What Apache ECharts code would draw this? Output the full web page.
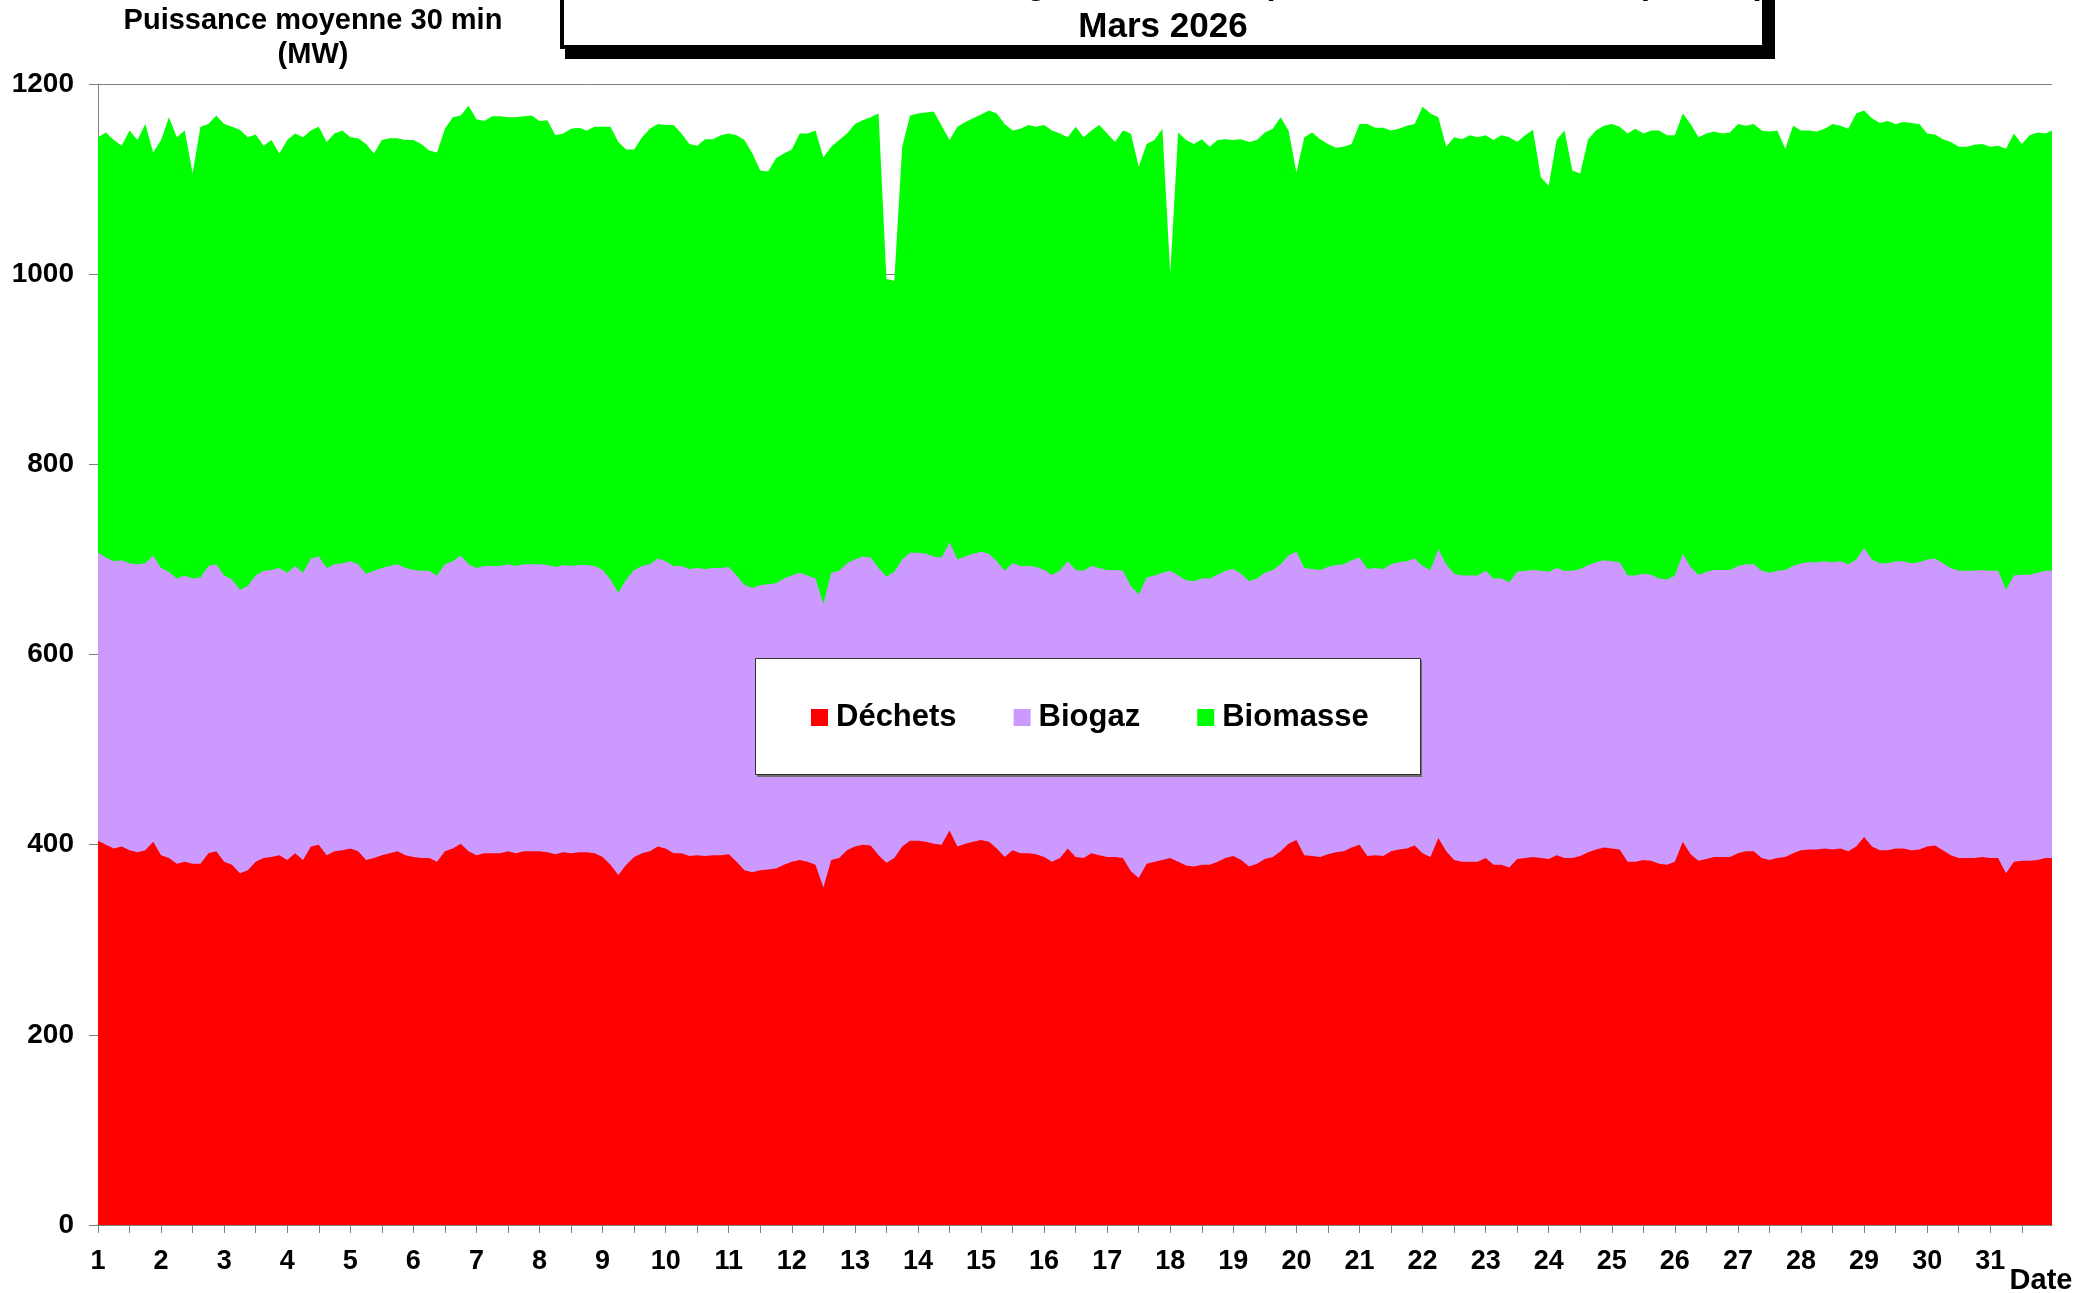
<!DOCTYPE html>
<html>
<head>
<meta charset="utf-8">
<script src="https://cdn.jsdelivr.net/npm/echarts@6/dist/echarts.min.js"></script>
<style>
  html, body { margin: 0; padding: 0; background: #fff; }
  #chart { width: 2100px; height: 1293px; }
</style>
</head>
<body>
<div id="chart"></div>
<script>
// production par pas de 3 h (0h, 3h ... 21h) puis la dernière demi-heure du 31
const hours = [0, 3, 6, 9, 12, 15, 18, 21]
const lastHour = 23.5

// étiquettes de l'axe des dates
const dayLabels = [1, 2, 3, 4, 5, 6, 7, 8, 9, 10, 11, 12, 13, 14, 15, 16,
  17, 18, 19, 20, 21, 22, 23, 24, 25, 26, 27, 28, 29, 30, 31]
const yTicks = [0, 200, 400, 600, 800, 1000, 1200]

const dechets = [
  404, 400, 396, 398, 394, 392, 394, 403,
  389, 386, 380, 382, 380, 380, 391, 393,
  382, 379, 370, 373, 382, 386, 387, 389,
  384, 391, 384, 398, 400, 389, 393, 394,
  396, 393, 384, 386, 389, 391, 393, 389,
  387, 386, 386, 382, 393, 396, 401, 393,
  389, 391, 391, 391, 393, 391, 393, 393,
  393, 392, 390, 392, 391, 392, 392, 391,
  387, 379, 368, 379, 387, 391, 393, 398,
  396, 391, 391, 388, 389, 388, 389, 389,
  390, 382, 373, 371, 373, 374, 375, 379,
  382, 384, 382, 379, 355, 384, 386, 394,
  398, 400, 399, 389, 381, 386, 398, 404,
  404, 403, 401, 400, 415, 398, 401, 403,
  405, 403, 396, 387, 394, 391, 391, 390,
  387, 382, 386, 396, 387, 386, 391, 389,
  387, 387, 386, 372, 365, 380, 382, 384,
  386, 382, 378, 377, 379, 379, 382, 386,
  388, 384, 377, 380, 385, 387, 393, 401,
  405, 389, 388, 387, 390, 392, 393, 397,
  400, 388, 389, 388, 393, 395, 396, 399,
  391, 387, 407, 393, 384, 382, 382, 382,
  386, 379, 379, 376, 385, 386, 387, 386,
  385, 389, 386, 386, 388, 392, 395, 397,
  396, 395, 382, 382, 384, 383, 380, 379,
  382, 403, 390, 383, 385, 387, 387, 387,
  391, 393, 393, 386, 384, 386, 387, 391,
  394, 395, 395, 396, 395, 396, 393, 398,
  408, 398, 394, 394, 396, 396, 394, 395,
  398, 399, 394, 389, 386, 386, 386, 387,
  386, 386, 370, 382, 383, 383, 384, 386,
  386
]

const biogaz = [
  303, 302, 302, 301, 302, 303, 302, 301,
  302, 301, 300, 301, 300, 301, 302, 302,
  301, 300, 298, 299, 301, 302, 302, 302,
  302, 302, 302, 303, 303, 302, 302, 302,
  302, 302, 301, 302, 302, 302, 302, 302,
  302, 302, 302, 301, 302, 302, 303, 302,
  302, 302, 302, 302, 302, 302, 302, 302,
  302, 302, 302, 302, 302, 302, 302, 302,
  302, 300, 297, 300, 302, 302, 302, 303,
  302, 302, 302, 302, 302, 302, 302, 302,
  302, 301, 300, 299, 300, 300, 300, 301,
  301, 302, 301, 301, 298, 302, 302, 302,
  302, 303, 303, 302, 301, 301, 302, 303,
  303, 303, 302, 302, 303, 302, 302, 303,
  303, 303, 302, 301, 302, 302, 302, 302,
  302, 302, 302, 302, 302, 302, 302, 302,
  302, 302, 302, 300, 298, 301, 301, 302,
  302, 301, 300, 300, 301, 301, 302, 302,
  302, 301, 300, 300, 301, 302, 302, 303,
  303, 302, 302, 302, 302, 302, 302, 302,
  302, 302, 302, 302, 302, 302, 302, 302,
  302, 302, 304, 302, 301, 301, 301, 301,
  302, 301, 301, 300, 302, 302, 302, 302,
  302, 302, 302, 302, 302, 302, 302, 302,
  302, 302, 301, 301, 301, 301, 300, 300,
  301, 303, 302, 301, 302, 302, 302, 302,
  302, 302, 302, 302, 302, 302, 302, 302,
  302, 302, 302, 302, 302, 302, 302, 302,
  304, 302, 302, 302, 302, 302, 302, 302,
  302, 302, 302, 302, 302, 302, 302, 302,
  302, 302, 298, 301, 301, 301, 302, 302,
  302
]

const biomasse = [
  437, 447, 443, 436, 455, 446, 462, 424,
  450, 478, 464, 468, 426, 474, 465, 472,
  475, 476, 484, 472, 464, 447, 452, 436,
  455, 455, 458, 450, 452, 448, 453, 455,
  446, 448, 452, 439, 450, 450, 448, 450,
  452, 449, 442, 445, 458, 467, 463, 482,
  472, 468, 473, 473, 470, 472, 471, 472,
  466, 468, 454, 454, 460, 460, 457, 462,
  466, 476, 474, 452, 442, 451, 458, 457,
  459, 464, 455, 447, 444, 452, 451, 455,
  456, 463, 468, 457, 436, 434, 447, 447,
  448, 462, 465, 471, 470, 448, 453, 452,
  458, 459, 463, 478, 313, 306, 434, 460,
  462, 464, 468, 454, 423, 455, 457, 458,
  460, 466, 471, 470, 455, 460, 464, 463,
  468, 467, 460, 446, 466, 456, 458, 466,
  459, 450, 463, 476, 450, 456, 458, 467,
  312, 466, 463, 460, 462, 454, 457, 454,
  451, 457, 462, 461, 463, 464, 470, 447,
  399, 453, 459, 453, 445, 439, 439, 438,
  456, 468, 463, 464, 456, 456, 458, 457,
  483, 480, 454, 439, 459, 459, 463, 461,
  458, 461, 466, 468, 452, 458, 463, 414,
  406, 450, 463, 421, 416, 448, 454, 457,
  460, 458, 465, 470, 463, 467, 471, 467,
  463, 463, 466, 460, 461, 461, 459, 460,
  465, 461, 463, 463, 464, 463, 443, 463,
  455, 454, 453, 455, 461, 458, 458, 469,
  460, 464, 463, 465, 460, 462, 463, 461,
  448, 446, 446, 448, 446, 446, 448, 448,
  446, 447, 464, 465, 453, 462, 463, 460,
  463
]

const seriesNames = ['Déchets', 'Biogaz', 'Biomasse']
const seriesColors = ['#ff0000', '#cc99ff', '#00ff00']

const FONT = '"Liberation Sans", Arial, Helvetica, sans-serif'

// abscisse en jours (1 = 1er mars 0h)
const times = []
dayLabels.forEach((d) => {
  hours.forEach((h) => times.push(d + h / 24))
})
times.push(dayLabels[dayLabels.length - 1] + lastHour / 24)

const halfDayTicks = dayLabels.flatMap((d) => [d, d + 0.5])

// empilement fait à la main : chaque aire part de 0, la plus basse dessinée en dernier
const cumDechets = dechets.map((v, i) => [times[i], v])
const cumBiogaz = dechets.map((v, i) => [times[i], v + biogaz[i]])
const cumBiomasse = dechets.map((v, i) => [times[i], v + biogaz[i] + biomasse[i]])

const chartInstance = echarts.init(document.getElementById('chart'))

const makeSeries = (name, data, color, z) => ({
  name: name,
  type: 'line',
  data: data,
  z: z,
  showSymbol: false,
  symbol: 'none',
  lineStyle: { width: 0 },
  itemStyle: { color: color },
  areaStyle: { color: color, opacity: 1, origin: 'start' },
  emphasis: { disabled: true },
  silent: true
})

const option = {
  animation: false,
  backgroundColor: '#fff',
  textStyle: { fontFamily: FONT },
  grid: {
    left: 98,
    right: 48,
    top: 84,
    bottom: 68,
    containLabel: false,
    outerBoundsMode: 'none'
  },
  legend: {
    data: seriesNames,
    left: 811,
    top: 702,
    padding: 0,
    z: 20,
    icon: 'rect',
    itemWidth: 17,
    itemHeight: 17,
    itemGap: 57,
    selectedMode: false,
    textStyle: {
      fontFamily: FONT,
      fontWeight: 'bold',
      fontSize: 31,
      lineHeight: 30,
      color: '#000',
      padding: [0, 0, 0, 3]
    }
  },
  xAxis: {
    type: 'value',
    min: 1,
    max: times[times.length - 1],
    interval: 0.5,
    axisLine: { show: true, onZero: false, lineStyle: { color: '#808080', width: 1 } },
    axisTick: {
      show: true,
      length: 8,
      customValues: halfDayTicks,
      lineStyle: { color: '#808080' }
    },
    axisLabel: {
      customValues: dayLabels,
      margin: 23,
      fontFamily: FONT,
      fontWeight: 'bold',
      fontSize: 27,
      color: '#000',
      formatter: (v) => (Number.isInteger(v) ? String(v) : '')
    },
    splitLine: { show: false }
  },
  yAxis: {
    type: 'value',
    min: yTicks[0],
    max: yTicks[yTicks.length - 1],
    interval: 200,
    axisLine: { show: true, lineStyle: { color: '#808080', width: 1 } },
    axisTick: { show: true, length: 9, lineStyle: { color: '#808080' } },
    axisLabel: {
      margin: 24,
      fontFamily: FONT,
      fontWeight: 'bold',
      fontSize: 28,
      color: '#000',
      formatter: (v) => String(v)
    },
    splitLine: { show: true, lineStyle: { color: '#808080', width: 1 } }
  },
  graphic: {
    elements: [
      // cadre du titre, coupé en haut
      {
        type: 'rect',
        z: 11,
        shape: { x: 565, y: -30, width: 1210, height: 89 },
        style: { fill: '#000' }
      },
      {
        type: 'rect',
        z: 12,
        shape: { x: 562, y: -30, width: 1202, height: 77 },
        style: { fill: '#fff', stroke: '#000', lineWidth: 4 }
      },
      {
        type: 'text',
        z: 13,
        x: 1163,
        y: -15,
        style: {
          text: 'Production totale des bioénergies en France par filière renouvelable (en MW)',
          font: 'bold 33px ' + FONT,
          fill: '#000',
          align: 'center',
          verticalAlign: 'middle'
        }
      },
      {
        type: 'text',
        z: 13,
        x: 1163,
        y: 27,
        style: {
          text: 'Mars 2026',
          font: 'bold 35px ' + FONT,
          fill: '#000',
          align: 'center',
          verticalAlign: 'middle'
        }
      },
      // nom de l'axe des ordonnées
      {
        type: 'text',
        z: 13,
        x: 313,
        y: 21,
        style: {
          text: 'Puissance moyenne 30 min',
          font: 'bold 29px ' + FONT,
          fill: '#000',
          align: 'center',
          verticalAlign: 'middle'
        }
      },
      {
        type: 'text',
        z: 13,
        x: 313,
        y: 55,
        style: {
          text: '(MW)',
          font: 'bold 29px ' + FONT,
          fill: '#000',
          align: 'center',
          verticalAlign: 'middle'
        }
      },
      {
        type: 'text',
        z: 13,
        x: 2041,
        y: 1281,
        style: {
          text: 'Date',
          font: 'bold 29px ' + FONT,
          fill: '#000',
          align: 'center',
          verticalAlign: 'middle'
        }
      },
      // cadre de la légende
      {
        type: 'rect',
        z: 14,
        shape: { x: 757, y: 660, width: 665, height: 117 },
        style: { fill: '#6e6e6e' }
      },
      {
        type: 'rect',
        z: 15,
        shape: { x: 755.5, y: 658.5, width: 665, height: 116 },
        style: { fill: '#fff', stroke: '#333', lineWidth: 1 }
      }
    ]
  },
  series: [
    makeSeries(seriesNames[2], cumBiomasse, seriesColors[2], 2),
    makeSeries(seriesNames[1], cumBiogaz, seriesColors[1], 3),
    makeSeries(seriesNames[0], cumDechets, seriesColors[0], 4)
  ]
}

chartInstance.setOption(option)
</script>
</body>
</html>
